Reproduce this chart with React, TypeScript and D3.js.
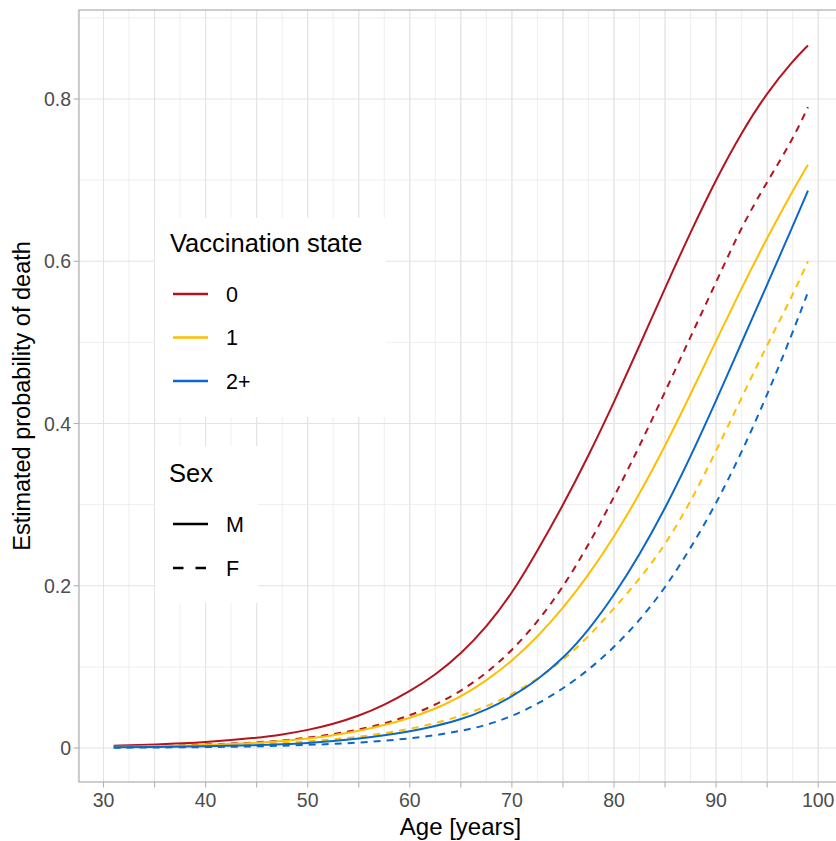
import React from "react";
import * as d3 from "d3";

// ---- data ----
const ages = [31, 35, 40, 45, 47.5, 50, 52.5, 55, 57.5, 60, 62.5, 65, 67.5, 70, 72.5, 75, 77.5, 80, 82.5, 85, 87.5, 90, 92.5, 95, 97.5, 99];

const vacc0M = [0.0028, 0.0042, 0.0068, 0.0125, 0.0165, 0.022, 0.0295, 0.0395, 0.053, 0.07, 0.09, 0.116, 0.149, 0.19, 0.243, 0.299, 0.36, 0.426, 0.496, 0.567, 0.636, 0.701, 0.759, 0.808, 0.847, 0.866];
const vacc0F = [0.0017, 0.0025, 0.004, 0.0068, 0.0092, 0.0125, 0.017, 0.0225, 0.03, 0.04, 0.053, 0.07, 0.092, 0.12, 0.155, 0.198, 0.25, 0.309, 0.372, 0.439, 0.507, 0.574, 0.643, 0.698, 0.75, 0.79];
const vacc1M = [0.0014, 0.002, 0.0034, 0.0062, 0.0085, 0.0115, 0.0155, 0.021, 0.028, 0.037, 0.048, 0.063, 0.083, 0.107, 0.137, 0.172, 0.213, 0.26, 0.313, 0.372, 0.436, 0.502, 0.567, 0.629, 0.687, 0.719];
const vacc1F = [0.001, 0.0015, 0.0025, 0.0046, 0.006, 0.0082, 0.0105, 0.0138, 0.018, 0.0235, 0.0305, 0.0395, 0.051, 0.066, 0.085, 0.108, 0.137, 0.172, 0.208, 0.25, 0.303, 0.366, 0.432, 0.497, 0.558, 0.6];
const vacc2M = [0.0008, 0.0012, 0.002, 0.0034, 0.0046, 0.0062, 0.0085, 0.0115, 0.0155, 0.0205, 0.027, 0.035, 0.047, 0.063, 0.084, 0.11, 0.145, 0.188, 0.238, 0.295, 0.359, 0.428, 0.5, 0.571, 0.643, 0.687];
const vacc2F = [0.0004, 0.0006, 0.0011, 0.002, 0.0028, 0.0038, 0.005, 0.0067, 0.0089, 0.0118, 0.0157, 0.021, 0.028, 0.039, 0.054, 0.073, 0.096, 0.124, 0.157, 0.197, 0.246, 0.301, 0.364, 0.435, 0.512, 0.562];

const vaccLevels = ["0", "1", "2+"];
const sexLevels = ["M", "F"];
const xMajorTicks = [30, 35, 40, 45, 50, 55, 60, 65, 70, 75, 80, 85, 90, 95, 100];
const xLabelTicks = [30, 40, 50, 60, 70, 80, 90, 100];
const yMajorTicks = [0, 0.2, 0.4, 0.6, 0.8];
const yMinorTicks = [0.1, 0.3, 0.5, 0.7, 0.9];

const vaccColors = ["#B2151F", "#FFBE00", "#0B67C9"];
const sexDash = ["none", "7,6"];

const series = [
  { vacc: 0, sex: 0, values: vacc0M },
  { vacc: 0, sex: 1, values: vacc0F },
  { vacc: 1, sex: 0, values: vacc1M },
  { vacc: 1, sex: 1, values: vacc1F },
  { vacc: 2, sex: 0, values: vacc2M },
  { vacc: 2, sex: 1, values: vacc2F },
];

const W = 836;
const H = 841;
const FONT = "'Liberation Sans', Arial, Helvetica, sans-serif";

export default function App() {
  const x = d3.scaleLinear().domain([27.6, 102.4]).range([79, 842.7]);
  const y = d3.scaleLinear().domain([-0.0419, 0.9097]).range([782, 10]);

  const line = d3
    .line<number>()
    .x((_, i) => x(ages[i]))
    .y((d) => y(d))
    .curve(d3.curveBasis);

  const xMinor = d3.range(27.5, 103, 2.5);

  const panelLeft = x.range()[0];
  const panelRight = x.range()[1];
  const panelTop = y.range()[1];
  const panelBottom = y.range()[0];

  return (
    <svg
      width={W}
      height={H}
      viewBox={`0 0 ${W} ${H}`}
      style={{ position: "absolute", left: 0, top: 0, background: "#fff" }}
      fontFamily={FONT}
    >
      <rect x={0} y={0} width={W} height={H} fill="#fff" />
      {/* grid */}
      <g>
        {yMinorTicks.map((v) => (
          <line key={"ym" + v} x1={panelLeft} x2={panelRight} y1={y(v)} y2={y(v)} stroke="#EBEBEB" strokeWidth={0.8} />
        ))}
        {xMinor.map((v) => (
          <line key={"xm" + v} x1={x(v)} x2={x(v)} y1={panelTop} y2={panelBottom} stroke="#EBEBEB" strokeWidth={0.8} />
        ))}
        {yMajorTicks.map((v) => (
          <line key={"yM" + v} x1={panelLeft} x2={panelRight} y1={y(v)} y2={y(v)} stroke="#E3E3E3" strokeWidth={1.1} />
        ))}
        {xMajorTicks.map((v) => (
          <line key={"xM" + v} x1={x(v)} x2={x(v)} y1={panelTop} y2={panelBottom} stroke="#E3E3E3" strokeWidth={1.1} />
        ))}
      </g>

      {/* curves */}
      <g fill="none">
        {series.map((s, i) => (
          <path
            key={i}
            d={line(s.values) || ""}
            stroke={vaccColors[s.vacc]}
            strokeWidth={2}
            strokeDasharray={sexDash[s.sex]}
          />
        ))}
      </g>

      {/* panel border */}
      <rect
        x={panelLeft}
        y={panelTop}
        width={panelRight - panelLeft}
        height={panelBottom - panelTop}
        fill="none"
        stroke="#B3B3B3"
        strokeWidth={1.3}
      />

      {/* axis ticks */}
      {xMajorTicks.map((v) => (
        <line key={"xt" + v} x1={x(v)} x2={x(v)} y1={panelBottom} y2={panelBottom + 5.5} stroke="#B3B3B3" strokeWidth={1.1} />
      ))}
      {yMajorTicks.map((v) => (
        <line key={"yt" + v} x1={panelLeft - 5.5} x2={panelLeft} y1={y(v)} y2={y(v)} stroke="#B3B3B3" strokeWidth={1.1} />
      ))}

      {/* tick labels */}
      {xLabelTicks.map((v) => (
        <text key={"xl" + v} x={x(v)} y={807} textAnchor="middle" fontSize={19.5} fill="#4D4D4D">
          {v}
        </text>
      ))}
      {yMajorTicks.map((v) => (
        <text key={"yl" + v} x={71} y={y(v) + 7} textAnchor="end" fontSize={19.5} fill="#4D4D4D">
          {d3.format("~g")(v)}
        </text>
      ))}

      {/* axis titles */}
      <text x={(panelLeft + 818) / 2 + 12} y={835} textAnchor="middle" fontSize={24} fill="#000">
        Age [years]
      </text>
      <text
        transform={`translate(30, ${(panelTop + panelBottom) / 2}) rotate(-90)`}
        textAnchor="middle"
        fontSize={23.5}
        fill="#000"
      >
        Estimated probability of death
      </text>

      {/* legend: vaccination state */}
      <g>
        <rect x={155} y={218} width={231} height={199} fill="#fff" />
        <text x={170} y={252} fontSize={25.5} fill="#000">
          Vaccination state
        </text>
        {vaccLevels.map((lab, i) => (
          <g key={lab}>
            <line x1={173} x2={208} y1={294 + i * 43.5} y2={294 + i * 43.5} stroke={vaccColors[i]} strokeWidth={2.5} />
            <text x={226} y={294 + i * 43.5 + 7.8} fontSize={21.5} fill="#000">
              {lab}
            </text>
          </g>
        ))}
      </g>

      {/* legend: sex */}
      <g>
        <rect x={155} y={446} width={103} height={157} fill="#fff" />
        <text x={169} y={482} fontSize={25.5} fill="#000">
          Sex
        </text>
        {sexLevels.map((lab, i) => (
          <g key={lab}>
            <line
              x1={173}
              x2={208}
              y1={524 + i * 44}
              y2={524 + i * 44}
              stroke="#000"
              strokeWidth={2.5}
              strokeDasharray={i === 1 ? "10.5,12" : "none"}
            />
            <text x={226} y={524 + i * 44 + 7.8} fontSize={21.5} fill="#000">
              {lab}
            </text>
          </g>
        ))}
      </g>
    </svg>
  );
}
